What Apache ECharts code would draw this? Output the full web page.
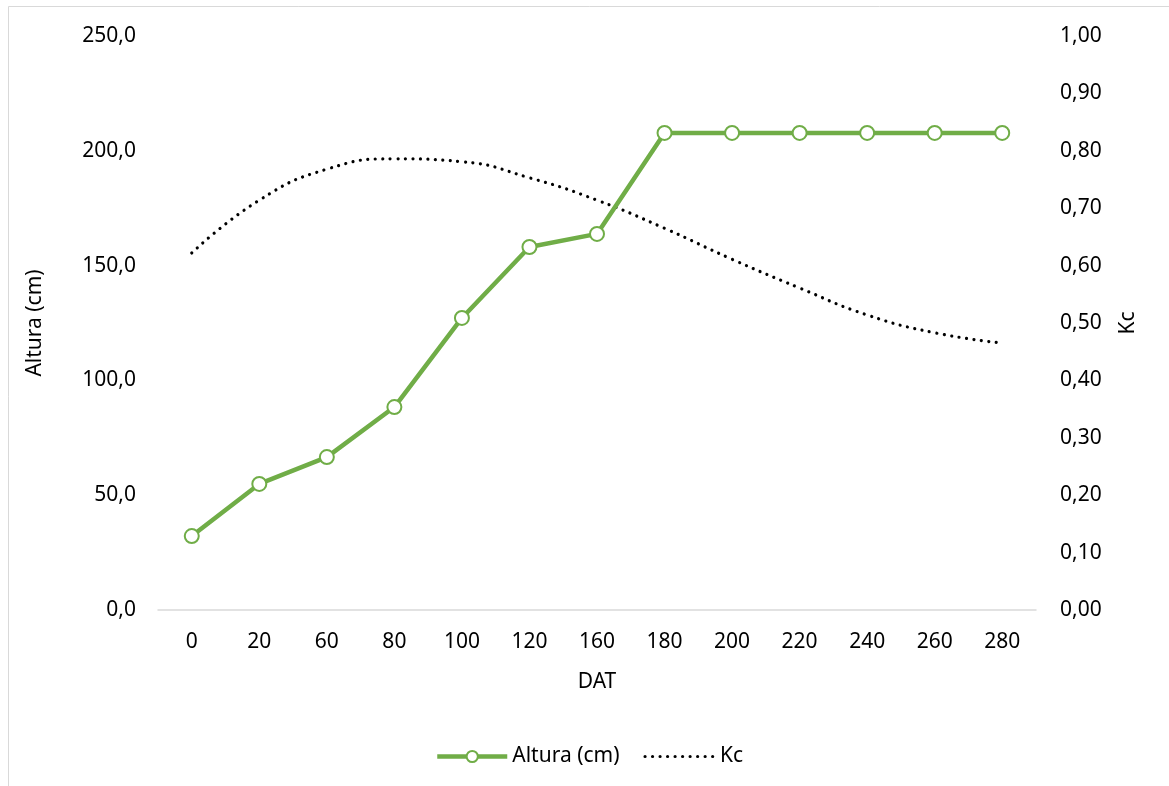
<!DOCTYPE html>
<html>
<head>
<meta charset="utf-8">
<script src="https://cdn.jsdelivr.net/npm/echarts@6/dist/echarts.min.js"></script>
<style>
  html, body { margin: 0; padding: 0; background: #fff; }
  #chart { width: 1169px; height: 786px; }
</style>
</head>
<body>
<div id="chart"></div>
<script>
// Days after transplanting (categories)
const dat = ['0', '20', '60', '80', '100', '120', '160', '180', '200', '220', '240', '260', '280'];
// Plant height (cm)
const altura = [32.2, 54.9, 66.6, 88.4, 127.2, 158.1, 163.8, 207.8, 207.8, 207.8, 207.8, 207.8, 207.8];
// Crop coefficient
const kc = [0.622, 0.714, 0.768, 0.786, 0.781, 0.753, 0.714, 0.665, 0.611, 0.561, 0.514, 0.483, 0.465];

const FONT = '"Noto Sans", sans-serif';
const GREEN = '#70AD47';
const TXT = { color: '#000', fontFamily: FONT, fontSize: 21 };
const KC_LINE = { color: '#000', width: 3.2, type: [0.01, 7.5], cap: 'round' };

const chart = echarts.init(document.getElementById('chart'), null, { renderer: 'canvas' });
chart.setOption({
  animation: false,
  backgroundColor: '#fff',
  textStyle: { fontFamily: FONT },
  graphic: [{
    type: 'rect',
    shape: { x: 8.5, y: 6.5, width: 1300, height: 900 },
    style: { fill: 'none', stroke: '#d9d9d9', lineWidth: 1 },
    silent: true
  }],
  grid: { left: 158, right: 133, top: 36, bottom: 176 },
  legend: {
    bottom: 14,
    left: 430,
    itemWidth: 70,
    itemHeight: 14,
    itemGap: 24,
    textStyle: TXT,
    data: [
      { name: 'Altura (cm)', lineStyle: { width: 4.5, color: GREEN } },
      { name: 'Kc', itemStyle: { opacity: 0 }, lineStyle: KC_LINE }
    ]
  },
  xAxis: {
    type: 'category',
    data: dat,
    boundaryGap: true,
    name: 'DAT',
    nameLocation: 'middle',
    nameGap: 62,
    nameTextStyle: TXT,
    axisLine: { lineStyle: { color: '#d9d9d9', width: 1.5 } },
    axisTick: { show: false },
    axisLabel: Object.assign({ margin: 22 }, TXT),
    splitLine: { show: false }
  },
  yAxis: [{
    type: 'value',
    min: 0, max: 250, interval: 50,
    name: 'Altura (cm)',
    nameLocation: 'middle',
    nameGap: 112,
    nameTextStyle: TXT,
    axisLine: { show: false },
    axisTick: { show: false },
    splitLine: { show: false },
    axisLabel: Object.assign({ margin: 22, formatter: v => v.toFixed(1).replace('.', ',') }, TXT)
  }, {
    type: 'value',
    min: 0, max: 1, interval: 0.1,
    name: 'Kc',
    nameLocation: 'middle',
    nameGap: 82,
    nameTextStyle: TXT,
    position: 'right',
    axisLine: { show: false },
    axisTick: { show: false },
    splitLine: { show: false },
    axisLabel: Object.assign({ margin: 24, formatter: v => v.toFixed(2).replace('.', ',') }, TXT)
  }],
  series: [{
    name: 'Altura (cm)',
    type: 'line',
    yAxisIndex: 0,
    data: altura,
    symbol: 'circle',
    symbolSize: 14,
    lineStyle: { color: GREEN, width: 4.5 },
    itemStyle: { color: '#fff', borderColor: GREEN, borderWidth: 2 },
    z: 3
  }, {
    name: 'Kc',
    type: 'line',
    yAxisIndex: 1,
    data: kc,
    smooth: 0.5,
    symbol: 'none',
    lineStyle: KC_LINE,
    itemStyle: { color: '#000' },
    z: 2
  }]
});
</script>
</body>
</html>
